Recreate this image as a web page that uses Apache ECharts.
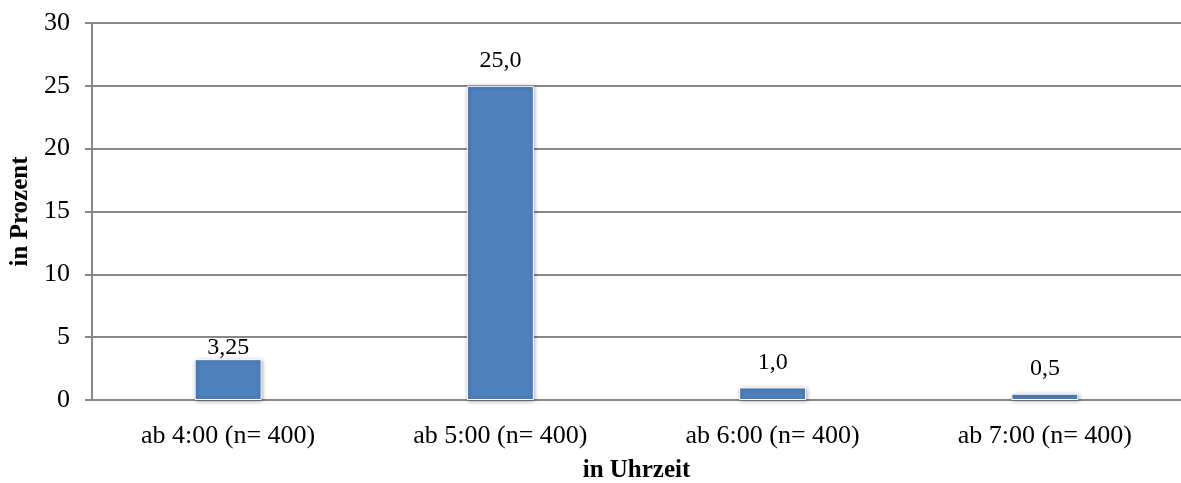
<!DOCTYPE html>
<html>
<head>
<meta charset="utf-8">
<script src="https://cdn.jsdelivr.net/npm/echarts@6/dist/echarts.min.js"></script>
<style>html,body{margin:0;padding:0;background:#fff}#c{width:1181px;height:483px}</style>
</head>
<body>
<div id="c"></div>
<script>
const categories = ['ab 4:00 (n= 400)', 'ab 5:00 (n= 400)', 'ab 6:00 (n= 400)', 'ab 7:00 (n= 400)'];
const values = [3.25, 25.0, 1.0, 0.5];
const valueLabels = ['3,25', '25,0', '1,0', '0,5'];
const labelGaps = [-1, 13, 13, 13];
const yTicks = [0, 5, 10, 15, 20, 25, 30];

const font = '"Liberation Serif", "Times New Roman", serif';
const chart = echarts.init(document.getElementById('c'));
chart.setOption({
  animation: false,
  grid: { left: 92, right: 0, top: 23, bottom: 83, containLabel: false, outerBoundsMode: 'none' },
  xAxis: {
    type: 'category',
    data: categories,
    name: 'in Uhrzeit',
    nameLocation: 'middle',
    nameGap: 58,
    nameTextStyle: { fontFamily: font, fontSize: 25, fontWeight: 'bold', color: '#000' },
    axisLine: { lineStyle: { color: '#888', width: 2 } },
    axisTick: { show: false },
    axisLabel: { fontFamily: font, fontSize: 26, color: '#000', margin: 23 }
  },
  yAxis: {
    type: 'value',
    min: 0, max: 30, interval: 5,
    name: 'in Prozent',
    nameLocation: 'middle',
    nameGap: 58,
    nameRotate: 90,
    nameTextStyle: { fontFamily: font, fontSize: 25, fontWeight: 'bold', color: '#000' },
    axisLine: { show: true, lineStyle: { color: '#888', width: 2 } },
    axisTick: { show: true, length: 7, lineStyle: { color: '#888', width: 2 } },
    splitLine: { lineStyle: { color: '#888', width: 2 } },
    axisLabel: { fontFamily: font, fontSize: 26, color: '#000', margin: 22,
      formatter: v => yTicks.includes(v) ? String(v) : '' }
  },
  series: [{
    type: 'bar',
    data: values.map((v, i) => ({
      value: v,
      label: { distance: labelGaps[i], formatter: valueLabels[i] }
    })),
    barWidth: 67,
    itemStyle: {
      color: '#4F81BD',
      borderColor: '#fff',
      borderWidth: 1,
      shadowColor: 'rgba(0,0,0,0.35)',
      shadowBlur: 4,
      shadowOffsetX: 1,
      shadowOffsetY: 1
    },
    label: { show: true, position: 'top', fontFamily: font, fontSize: 24, color: '#000' }
  }]
});
</script>
</body>
</html>
